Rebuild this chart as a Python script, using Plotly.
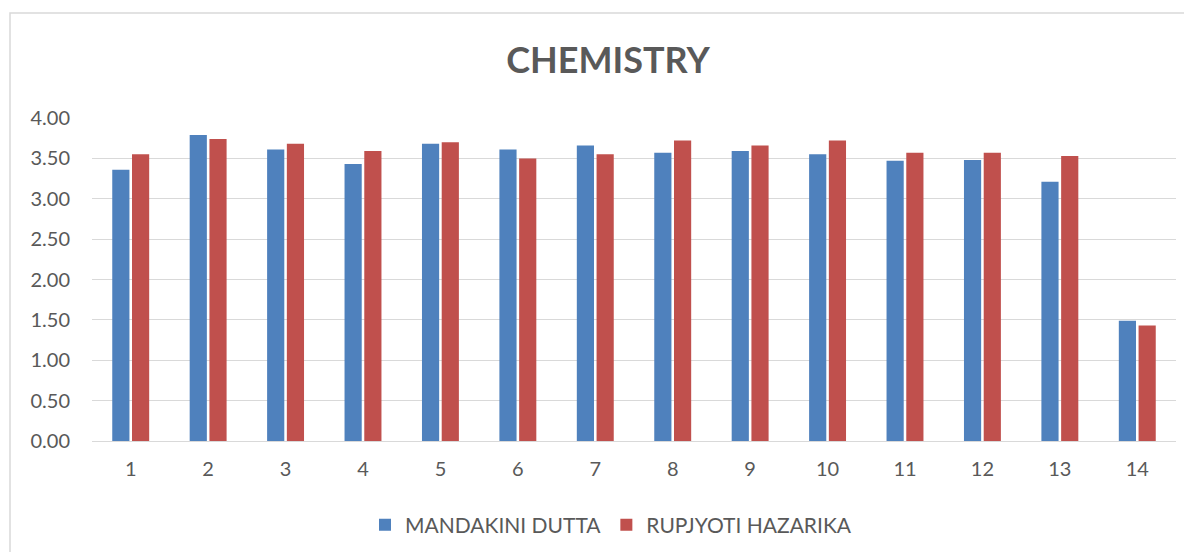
import plotly.graph_objects as go

categories = [str(i) for i in range(1, 15)]
mandakini = [3.36, 3.79, 3.61, 3.43, 3.68, 3.61, 3.66, 3.57, 3.59, 3.55, 3.47, 3.48, 3.21, 1.49]
rupjyoti = [3.55, 3.74, 3.68, 3.59, 3.70, 3.50, 3.55, 3.72, 3.66, 3.72, 3.57, 3.57, 3.53, 1.43]
y_ticks = [0, 0.5, 1, 1.5, 2, 2.5, 3, 3.5, 4]
y_tick_text = ["%.2f" % v for v in y_ticks]

FONT = "Lato"
TXT = "#595959"

fig = go.Figure()
fig.add_trace(go.Bar(x=categories, y=mandakini, name="MANDAKINI DUTTA",
                     marker=dict(color="#4F81BD", line=dict(width=0))))
fig.add_trace(go.Bar(x=categories, y=rupjyoti, name="RUPJYOTI HAZARIKA",
                     marker=dict(color="#C0504D", line=dict(width=0))))

# page body has an 8px margin: figure drawn at (8, 8)
OFF = 8
W, H = 1192 - OFF, 552 - OFF
L, R, T, B = 92 - OFF, W - (1176 - OFF), 118 - OFF, H - (441 - OFF)
pw = W - L - R
ph = H - T - B

def px_x(p):
    return (p - OFF - L) / pw

def px_y(p):
    return (H - B - (p - OFF)) / ph

fig.update_layout(
    width=W, height=H,
    margin=dict(l=L, r=R, t=T, b=B, pad=0, autoexpand=False),
    paper_bgcolor="white", plot_bgcolor="white",
    barmode="group", bargap=0.49, bargroupgap=0.13,
    title=dict(text="<b>CHEMISTRY</b>", x=(608 - OFF) / W, xanchor="center",
               y=1 - (60 - OFF) / H, yanchor="middle",
               font=dict(family=FONT, size=36, color=TXT)),
    font=dict(family=FONT, size=20, color=TXT),
    showlegend=True,
    legend=dict(orientation="h", x=px_x(611), xanchor="center",
                y=px_y(525), yanchor="middle",
                font=dict(family=FONT, size=21, color=TXT),
                itemwidth=30, traceorder="normal"),
    xaxis=dict(type="category", showgrid=False, zeroline=False,
               showline=False, ticks="", tickfont=dict(size=20, color=TXT),
               ticklabelstandoff=14),
    yaxis=dict(range=[0, 4], tickvals=y_ticks, ticktext=y_tick_text,
               showgrid=True, gridcolor="#D9D9D9", gridwidth=1.3,
               zeroline=True, zerolinecolor="#D9D9D9", zerolinewidth=1.3,
               showline=False, ticks="", ticklabelstandoff=21,
               tickfont=dict(size=20, color=TXT)),
    shapes=[dict(type="rect", xref="paper", yref="paper",
                 x0=px_x(10), x1=px_x(1210), y0=px_y(570), y1=px_y(13),
                 line=dict(color="#D9D9D9", width=1.5), fillcolor="rgba(0,0,0,0)",
                 layer="below")],
)

fig.write_html("out.html")
